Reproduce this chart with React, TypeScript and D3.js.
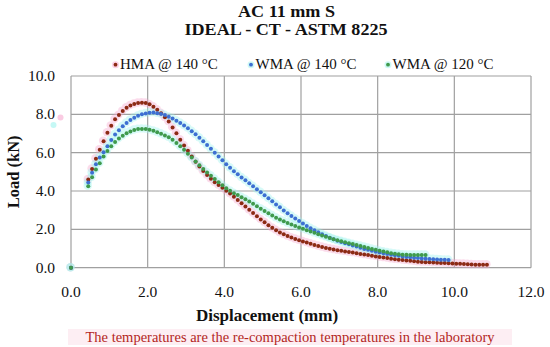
import React from 'react'
import * as d3 from 'd3';

const displacement = [
  0.45, 0.55, 0.65, 0.75, 0.85, 0.95, 1.05, 1.15, 1.25, 1.35,
  1.45, 1.55, 1.65, 1.75, 1.85, 1.95, 2.05, 2.15, 2.25, 2.35,
  2.45, 2.55, 2.65, 2.75, 2.85, 2.95, 3.05, 3.15, 3.25, 3.35,
  3.45, 3.55, 3.65, 3.75, 3.85, 3.95, 4.05, 4.15, 4.25, 4.35,
  4.45, 4.55, 4.65, 4.75, 4.85, 4.95, 5.05, 5.15, 5.25, 5.35,
  5.45, 5.55, 5.65, 5.75, 5.85, 5.95, 6.05, 6.15, 6.25, 6.35,
  6.45, 6.55, 6.65, 6.75, 6.85, 6.95, 7.05, 7.15, 7.25, 7.35,
  7.45, 7.55, 7.65, 7.75, 7.85, 7.95, 8.05, 8.15, 8.25, 8.35,
  8.45, 8.55, 8.65, 8.75, 8.85, 8.95, 9.05, 9.15, 9.25, 9.35,
  9.45, 9.55, 9.65, 9.75, 9.85, 9.95, 10.05, 10.15, 10.25, 10.35,
  10.45, 10.55, 10.65, 10.75, 10.85,
];

const hmaLoad = [
  4.60, 5.15, 5.68, 6.15, 6.60, 7.04, 7.40, 7.74, 7.96, 8.17,
  8.34, 8.46, 8.54, 8.59, 8.61, 8.59, 8.52, 8.40, 8.24, 8.06,
  7.85, 7.62, 7.32, 7.02, 6.68, 6.38, 6.10, 5.80, 5.53, 5.28,
  5.04, 4.83, 4.64, 4.46, 4.31, 4.17, 4.02, 3.87, 3.70, 3.53,
  3.36, 3.19, 3.02, 2.85, 2.68, 2.52, 2.37, 2.22, 2.08, 1.96,
  1.84, 1.74, 1.65, 1.57, 1.50, 1.43, 1.37, 1.31, 1.25, 1.19,
  1.13, 1.08, 1.03, 0.99, 0.95, 0.91, 0.88, 0.85, 0.82, 0.79,
  0.76, 0.72, 0.69, 0.66, 0.62, 0.59, 0.56, 0.53, 0.50, 0.47,
  0.44, 0.42, 0.40, 0.38, 0.36, 0.33, 0.31, 0.30, 0.29, 0.28,
  0.27, 0.26, 0.25, 0.24, 0.23, 0.22, 0.21, 0.20, 0.19, 0.18,
  0.17, 0.16, 0.16, 0.15, 0.15,
];

const wma140Load = [
  4.45, 4.95, 5.40, 5.75, 6.02, 6.33, 6.66, 6.95, 7.17, 7.38,
  7.55, 7.70, 7.82, 7.92, 8.00, 8.05, 8.08, 8.09, 8.06, 8.02,
  7.96, 7.87, 7.78, 7.67, 7.55, 7.42, 7.28, 7.12, 6.96, 6.78,
  6.60, 6.40, 6.20, 6.00, 5.80, 5.60, 5.40, 5.21, 5.03, 4.87,
  4.71, 4.56, 4.40, 4.25, 4.09, 3.94, 3.78, 3.62, 3.46, 3.30,
  3.15, 2.99, 2.84, 2.70, 2.56, 2.43, 2.30, 2.18, 2.06, 1.95,
  1.85, 1.75, 1.65, 1.56, 1.48, 1.41, 1.34, 1.28, 1.22, 1.16,
  1.10, 1.04, 0.98, 0.93, 0.88, 0.83, 0.79, 0.75, 0.71, 0.68,
  0.65, 0.62, 0.59, 0.56, 0.54, 0.52, 0.50, 0.48, 0.47, 0.45,
  0.44, 0.43, 0.42, 0.41, 0.40,
];

const wma120Load = [
  4.25, 4.72, 5.12, 5.45, 5.80, 6.09, 6.33, 6.56, 6.74, 6.88,
  7.01, 7.11, 7.18, 7.23, 7.24, 7.23, 7.19, 7.14, 7.07, 6.99,
  6.90, 6.80, 6.67, 6.51, 6.33, 6.15, 5.95, 5.75, 5.54, 5.34,
  5.15, 4.97, 4.80, 4.63, 4.46, 4.30, 4.15, 4.01, 3.89, 3.79,
  3.68, 3.57, 3.45, 3.33, 3.20, 3.08, 2.96, 2.84, 2.72, 2.61,
  2.51, 2.42, 2.33, 2.25, 2.17, 2.10, 2.03, 1.96, 1.89, 1.82,
  1.75, 1.68, 1.61, 1.55, 1.49, 1.43, 1.38, 1.33, 1.28, 1.23,
  1.18, 1.13, 1.08, 1.03, 0.98, 0.93, 0.88, 0.84, 0.80, 0.76,
  0.73, 0.70, 0.68, 0.67, 0.66, 0.66, 0.66, 0.66, 0.66,
];

// every test starts from the origin
const origin = { x: 0, y: 0 };

const seriesNames = ['HMA @ 140 °C', 'WMA @ 140 °C', 'WMA @ 120 °C'];
const seriesColors = ['#8c2a14', '#3d6fd2', '#3f9a4c'];
const haloColors = ['#f7a8cf', '#9ef4ee', '#9ef4ee'];
const seriesLoads = [hmaLoad, wma140Load, wma120Load];

const titleLines = ['AC 11 mm S', 'IDEAL - CT - ASTM 8225'];

const font = '"Liberation Serif", "Times New Roman", serif';

const App: React.FC = () => {
  const width = 550;
  const height = 347;

  const x = d3.scaleLinear().domain([0, 12]).range([71, 531]);
  const y = d3.scaleLinear().domain([0, 10]).range([267.7, 76]);
  const fmt = d3.format('.1f');

  const xTicks = x.ticks(6);
  const yTicks = y.ticks(5);

  const series = seriesLoads.map((loads, i) => ({
    name: seriesNames[i],
    color: seriesColors[i],
    halo: haloColors[i],
    points: [origin, ...loads.map((v, j) => ({ x: displacement[j], y: v }))],
  }));

  const legendX = [115.5, 251, 388];

  return (
    <svg width={width} height={height} style={{ position: 'absolute', left: 0, top: 0, background: '#fff' }}>
      {/* gridlines */}
      <g stroke='#a0a0a0' strokeWidth={1.2}>
        {xTicks.map(t => (
          <line key={'gx' + t} x1={x(t)} x2={x(t)} y1={y(10)} y2={y(0)} />
        ))}
        {yTicks.map(t => (
          <line key={'gy' + t} x1={x(0)} x2={x(12)} y1={y(t)} y2={y(t)} />
        ))}
      </g>

      {/* halos */}
      {series.map(s => (
        <g key={'h' + s.name} opacity={0.4} fill={s.halo}>
          {s.points.map((p, j) => (
            <circle key={j} cx={x(p.x) - 0.5} cy={y(p.y) - 0.5} r={4.2} />
          ))}
        </g>
      ))}

      {/* points */}
      {series.map(s => (
        <g key={'p' + s.name} fill={s.color}>
          {s.points.map((p, j) => (
            <circle key={j} cx={x(p.x)} cy={y(p.y)} r={2} />
          ))}
        </g>
      ))}

      {/* tick labels */}
      <g fontFamily={font} fontSize={15.5} fill='#111'>
        {xTicks.map(t => (
          <text key={'tx' + t} x={x(t)} y={297} textAnchor='middle'>{fmt(t)}</text>
        ))}
        {yTicks.map(t => (
          <text key={'ty' + t} x={55} y={y(t) + 5} textAnchor='end'>{fmt(t)}</text>
        ))}
      </g>

      {/* titles */}
      <g fontFamily={font} fontWeight='bold' fill='#111' textAnchor='middle'>
        <text x={286.5} y={16.5} fontSize={16} textLength={97} lengthAdjust='spacingAndGlyphs'>{titleLines[0]}</text>
        <text x={286} y={34.5} fontSize={16} textLength={203} lengthAdjust='spacingAndGlyphs'>{titleLines[1]}</text>
        <text x={267} y={321} fontSize={17}>Displacement (mm)</text>
        <text transform={`translate(18.5, ${(y(0) + y(10)) / 2}) rotate(-90)`} fontSize={16.5}>Load (kN)</text>
      </g>

      {/* legend */}
      <g fontFamily={font} fontSize={15} fill='#111'>
        {series.map((s, i) => (
          <g key={'l' + s.name}>
            <circle cx={legendX[i]} cy={64.7} r={3.5} fill={s.halo} opacity={0.5} />
            <circle cx={legendX[i]} cy={64.7} r={1.9} fill={s.color} />
            <text x={legendX[i] + 4.5} y={69}>{s.name}</text>
          </g>
        ))}
      </g>

      {/* stray marker glows beside the axis */}
      <circle cx={60.5} cy={117.5} r={3} fill='#f7a8cf' opacity={0.6} />
      <circle cx={53.5} cy={125} r={3} fill='#9ef4ee' opacity={0.6} />

      {/* footnote */}
      <rect x={68} y={329} width={444} height={16} fill='#fdeef3' />
      <text x={290} y={341.5} fontFamily={font} fontSize={14.5} fill='#b3261e' textAnchor='middle'>
        The temperatures are the re-compaction temperatures in the laboratory
      </text>
    </svg>
  )
}

export default App
